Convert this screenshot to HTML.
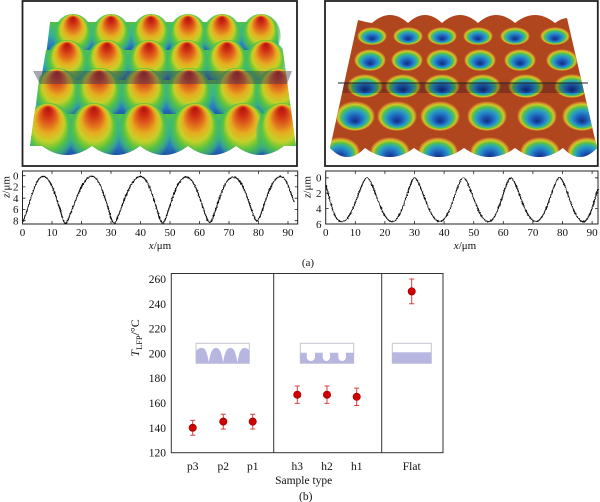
<!DOCTYPE html>
<html><head><meta charset="utf-8"><style>
html,body{margin:0;padding:0;background:#fff;}
svg{display:block;}
text{font-family:"Liberation Serif",serif;fill:#111;}
</style></head><body>
<svg width="600" height="502" viewBox="0 0 600 502" xmlns="http://www.w3.org/2000/svg">
<defs>
<linearGradient id="baseL" x1="0" y1="0" x2="0" y2="1">
<stop offset="0" stop-color="#52c243"/><stop offset="0.35" stop-color="#34b49a"/>
<stop offset="0.7" stop-color="#2a78c0"/><stop offset="1" stop-color="#163c96"/>
</linearGradient>
<radialGradient id="dome" cx="50%" cy="50%" r="52%" fx="50%" fy="8%">
<stop offset="0" stop-color="#b4120a"/><stop offset="0.14" stop-color="#cc2a14"/>
<stop offset="0.3" stop-color="#e0641c"/><stop offset="0.46" stop-color="#e6ae20"/>
<stop offset="0.6" stop-color="#c6d028"/><stop offset="0.74" stop-color="#5cc43c"/>
<stop offset="0.88" stop-color="#3fba6e" stop-opacity="0.7"/><stop offset="1" stop-color="#3ab37a" stop-opacity="0"/>
</radialGradient>
<radialGradient id="hole" cx="50%" cy="50%" r="50%" fx="50%" fy="68%">
<stop offset="0" stop-color="#102e80"/><stop offset="0.25" stop-color="#1c58b4"/>
<stop offset="0.45" stop-color="#2688c8"/><stop offset="0.6" stop-color="#30aea8"/>
<stop offset="0.72" stop-color="#5fc040"/>
<stop offset="0.83" stop-color="#c8cc28"/><stop offset="0.92" stop-color="#d6862a"/>
<stop offset="1" stop-color="#b0461e"/>
</radialGradient>
<filter id="jag" filterUnits="userSpaceOnUse" x="0" y="160" width="600" height="80">
<feTurbulence type="fractalNoise" baseFrequency="0.6" numOctaves="1" seed="3" result="n"/>
<feDisplacementMap in="SourceGraphic" in2="n" scale="2.2" xChannelSelector="R" yChannelSelector="G"/>
</filter>
<clipPath id="clipL"><path d="M50,0 L276,0 L296,146 L284,146 Q260,164 236,146 Q212,164 188,146 Q164,164 140,146 Q116,164 92,146 Q67,164 42,146 L30,146 Z"/></clipPath>
<clipPath id="clipR"><path id="surfR" d="M358,20 Q365,22 372,23 Q390,7 408,23 Q425,7 442,23 Q460,7 478,23 Q496,7 515,23 Q535,7 555,23 Q562,18 567,18 L597,148 Q580,166 563,148 Q539,166 515,148 Q490,166 464,148 Q439,166 414,148 Q390,166 365,148 Q347,166 330,148 Z"/></clipPath>
</defs>

<!-- Top left 3D panel -->
<rect x="22.5" y="1" width="274.5" height="165" fill="#fff" stroke="#222" stroke-width="1.8"/>
<g clip-path="url(#clipL)">
<polygon points="50,22 276,22 280,56 46,56" fill="url(#baseL)"/>
<g fill="url(#dome)">
<ellipse cx="73" cy="36" rx="20" ry="22"/><ellipse cx="111" cy="36" rx="20" ry="22"/>
<ellipse cx="151" cy="36" rx="20" ry="22"/><ellipse cx="188" cy="36" rx="20" ry="22"/>
<ellipse cx="222" cy="36" rx="20" ry="22"/><ellipse cx="261" cy="36" rx="20" ry="22"/>
</g>
<polygon points="46,50 280,50 284,86 40,86" fill="url(#baseL)"/>
<g fill="url(#dome)">
<ellipse cx="67" cy="64" rx="22" ry="24"/><ellipse cx="107" cy="64" rx="22" ry="24"/>
<ellipse cx="149" cy="64" rx="22" ry="24"/><ellipse cx="187" cy="64" rx="22" ry="24"/>
<ellipse cx="227" cy="64" rx="22" ry="24"/><ellipse cx="266" cy="64" rx="22" ry="24"/>
</g>
<polygon points="40,80 284,80 290,120 34,120" fill="url(#baseL)"/>
<g fill="url(#dome)">
<ellipse cx="57" cy="95" rx="24" ry="27"/><ellipse cx="99" cy="95" rx="24" ry="27"/>
<ellipse cx="144" cy="95" rx="24" ry="27"/><ellipse cx="189" cy="95" rx="24" ry="27"/>
<ellipse cx="237" cy="95" rx="24" ry="27"/><ellipse cx="278" cy="95" rx="24" ry="27"/>
</g>
<polygon points="34,114 290,114 298,160 28,160" fill="url(#baseL)"/>
<g fill="url(#dome)">
<ellipse cx="48" cy="133" rx="26" ry="30"/><ellipse cx="94" cy="133" rx="26" ry="30"/>
<ellipse cx="144" cy="133" rx="26" ry="30"/><ellipse cx="195" cy="133" rx="26" ry="30"/>
<ellipse cx="243" cy="133" rx="26" ry="30"/><ellipse cx="282" cy="133" rx="26" ry="30"/>
</g>
</g>
<polygon points="33,71 292,71 287,84 40,84" fill="rgba(60,60,85,0.45)"/>

<!-- Top right 3D panel -->
<rect x="325" y="1" width="272.8" height="165" fill="#fff" stroke="#222" stroke-width="1.8"/>
<use href="#surfR" fill="#b0461e"/>
<g clip-path="url(#clipR)" fill="url(#hole)">
<ellipse cx="372" cy="36" rx="15" ry="9"/><ellipse cx="408" cy="36" rx="15" ry="9"/>
<ellipse cx="442" cy="36" rx="15" ry="9"/><ellipse cx="478" cy="36" rx="15" ry="9"/>
<ellipse cx="515" cy="36" rx="15" ry="9"/><ellipse cx="555" cy="36" rx="15" ry="9"/>
<ellipse cx="370" cy="60" rx="16" ry="11"/><ellipse cx="407" cy="60" rx="16" ry="11"/>
<ellipse cx="442" cy="60" rx="16" ry="11"/><ellipse cx="480" cy="60" rx="16" ry="11"/>
<ellipse cx="520" cy="60" rx="16" ry="11"/><ellipse cx="562" cy="60" rx="16" ry="11"/>
<ellipse cx="365" cy="86" rx="18" ry="12"/><ellipse cx="403" cy="86" rx="18" ry="12"/>
<ellipse cx="442" cy="86" rx="18" ry="12"/><ellipse cx="483" cy="86" rx="18" ry="12"/>
<ellipse cx="526" cy="86" rx="18" ry="12"/><ellipse cx="572" cy="86" rx="18" ry="12"/>
<ellipse cx="355" cy="116" rx="20" ry="15"/><ellipse cx="397" cy="116" rx="20" ry="15"/>
<ellipse cx="440" cy="116" rx="20" ry="15"/><ellipse cx="487" cy="116" rx="20" ry="15"/>
<ellipse cx="537" cy="116" rx="20" ry="15"/><ellipse cx="582" cy="116" rx="20" ry="15"/>
<ellipse cx="340" cy="152" rx="20" ry="15"/><ellipse cx="390" cy="152" rx="20" ry="15"/>
<ellipse cx="438" cy="152" rx="20" ry="15"/><ellipse cx="490" cy="152" rx="20" ry="15"/>
<ellipse cx="540" cy="152" rx="20" ry="15"/><ellipse cx="587" cy="152" rx="20" ry="15"/>
<rect x="338" y="83" width="250" height="10" fill="rgba(0,0,30,0.25)"/>
</g>
<line x1="338" y1="83" x2="588" y2="83" stroke="#222" stroke-width="1"/>

<!-- Left profile -->
<rect x="22.5" y="171" width="275.2" height="53" fill="none" stroke="#222" stroke-width="1"/>
<g stroke="#222" stroke-width="0.8">
<path d="M52,224v-3M81.5,224v-3M111,224v-3M140.5,224v-3M170,224v-3M199.5,224v-3M229,224v-3M258.5,224v-3M288,224v-3
M52,171v3M81.5,171v3M111,171v3M140.5,171v3M170,171v3M199.5,171v3M229,171v3M258.5,171v3M288,171v3
M22.5,175.7h3M22.5,186.9h3M22.5,198.2h3M22.5,209.4h3M22.5,220.7h3
M297.7,175.7h-3M297.7,186.9h-3M297.7,198.2h-3M297.7,209.4h-3M297.7,220.7h-3"/>
</g>
<path fill="none" stroke="#111" stroke-width="1.2" filter="url(#jag)" d="M22.5,221.8 C28,214 34,176.3 43.2,176.3 C54,176.3 62,223.5 65.3,223.5 C69.5,223.5 80,176.3 91.8,176.3 C103,176.3 110,223.3 114,223.3 C118.5,223.3 128,176.5 140.5,176.5 C151.5,176.5 158.5,223.3 162.6,223.3 C167,223.3 174.5,177 186.2,177 C197.5,177 205,222.5 209.8,222.5 C214.5,222.5 221.5,177 233.4,177 C245,177 252.5,221 257,221 C261.5,221 269,176.5 280.6,176.5 C286,176.5 290,190 294,202"/>
<g font-size="11" text-anchor="end">
<text x="18.5" y="179.5">0</text><text x="18.5" y="190.7">2</text><text x="18.5" y="202">4</text><text x="18.5" y="213.2">6</text><text x="18.5" y="224.5">8</text>
</g>
<g font-size="11" text-anchor="middle">
<text x="22.5" y="236">0</text><text x="52" y="236">10</text><text x="81.5" y="236">20</text><text x="111" y="236">30</text><text x="140.5" y="236">40</text><text x="170" y="236">50</text><text x="199.5" y="236">60</text><text x="229" y="236">70</text><text x="258.5" y="236">80</text><text x="288" y="236">90</text>
<text x="160" y="249"><tspan font-style="italic">x</tspan>/μm</text>
</g>
<text font-size="11" text-anchor="middle" transform="translate(9.5,187) rotate(-90)"><tspan font-style="italic">z</tspan>/μm</text>

<!-- Right profile -->
<rect x="325.7" y="171" width="272.3" height="53" fill="none" stroke="#222" stroke-width="1"/>
<g stroke="#222" stroke-width="0.8">
<path d="M355.3,224v-3M384.9,224v-3M414.5,224v-3M444.1,224v-3M473.7,224v-3M503.3,224v-3M532.9,224v-3M562.5,224v-3M592.1,224v-3
M355.3,171v3M384.9,171v3M414.5,171v3M444.1,171v3M473.7,171v3M503.3,171v3M532.9,171v3M562.5,171v3M592.1,171v3
M325.7,177.8h3M325.7,193.2h3M325.7,208.6h3
M598,177.8h-3M598,193.2h-3M598,208.6h-3"/>
</g>
<path fill="none" stroke="#111" stroke-width="1.2" filter="url(#jag)" d="M325.7,185.5 C330,197 333,221.7 342,221.7 C353,221.7 361,177.8 367.1,177.8 C373,177.8 381,221.7 392.3,221.7 C402.5,221.7 409.5,177.8 414.5,177.8 C420.5,177.8 428.5,221.5 439.7,221.5 C450.5,221.5 457.5,177.8 463.3,177.8 C469.5,177.8 477.5,221.7 488.5,221.7 C498.5,221.7 505.5,177.8 510.7,177.8 C516.7,177.8 524.7,221.5 535.9,221.5 C546.5,221.5 553.5,177.8 559.5,177.8 C565.5,177.8 573,221.7 583.2,221.7 C590,221.7 594,200 598,189.3"/>
<g font-size="11" text-anchor="end">
<text x="321.5" y="181.6">0</text><text x="321.5" y="197">2</text><text x="321.5" y="212.4">4</text><text x="321.5" y="227.8">6</text>
</g>
<g font-size="11" text-anchor="middle">
<text x="325.7" y="236">0</text><text x="355.3" y="236">10</text><text x="384.9" y="236">20</text><text x="414.5" y="236">30</text><text x="444.1" y="236">40</text><text x="473.7" y="236">50</text><text x="503.3" y="236">60</text><text x="532.9" y="236">70</text><text x="562.5" y="236">80</text><text x="592.1" y="236">90</text>
<text x="465" y="249"><tspan font-style="italic">x</tspan>/μm</text>
</g>
<text font-size="11" text-anchor="middle" transform="translate(310.5,187) rotate(-90)"><tspan font-style="italic">z</tspan>/μm</text>

<text x="308" y="266" font-size="11" text-anchor="middle">(a)</text>

<!-- Chart (b) -->
<rect x="171.3" y="273.5" width="271.7" height="179.2" fill="none" stroke="#333" stroke-width="1"/>
<line x1="273.7" y1="273.5" x2="273.7" y2="452.7" stroke="#333" stroke-width="1"/>
<line x1="381.7" y1="273.5" x2="381.7" y2="452.7" stroke="#333" stroke-width="1"/>
<g font-size="11.5" text-anchor="end">
<text x="166" y="283">260</text><text x="166" y="307.8">240</text><text x="166" y="332.6">220</text><text x="166" y="357.4">200</text><text x="166" y="382.2">180</text><text x="166" y="407">160</text><text x="166" y="431.8">140</text><text x="166" y="456.6">120</text>
</g>
<text font-size="12" text-anchor="middle" transform="translate(139,338) rotate(-90)"><tspan font-style="italic">T</tspan><tspan font-size="8.5" dy="3">LFP</tspan><tspan dy="-3">/°C</tspan></text>
<g font-size="11.5" text-anchor="middle">
<text x="192.7" y="470">p3</text><text x="223.3" y="470">p2</text><text x="252.7" y="470">p1</text>
<text x="297.3" y="470">h3</text><text x="327" y="470">h2</text><text x="356.7" y="470">h1</text>
<text x="411.7" y="470">Flat</text>
<text x="303.7" y="484">Sample type</text>
<text x="305.7" y="500">(b)</text>
</g>

<!-- insets -->
<rect x="196" y="343.3" width="53.3" height="20" fill="#fff" stroke="#c4c4d0" stroke-width="1"/>
<path fill="#b6b6e0" d="M196,363.3 L196,352 C197,349 199,348 201.7,348 C204.7,348 206.85,350 208.85,362.5 C210.85,350 213,348 216,348 C219,348 221.15,350 223.15,362.5 C225.15,350 227.3,348 230.3,348 C233.3,348 235.45,350 237.45,362.5 C239.45,350 241.6,348 244.6,348 C247.6,348 249.3,350 249.3,352 L249.3,363.3 Z"/>
<rect x="300.3" y="343.3" width="53.4" height="20" fill="#fff" stroke="#c4c4d0" stroke-width="1"/>
<path fill="#b6b6e0" d="M300.3,352.7 L306.7,352.7 L306.7,357 A4.15,4 0 0 0 315,357 L315,352.7 L322.7,352.7 L322.7,357 A3.65,4 0 0 0 330,357 L330,352.7 L338.3,352.7 L338.3,357 A3.85,4 0 0 0 346,357 L346,352.7 L353.7,352.7 L353.7,363.3 L300.3,363.3 Z"/>
<rect x="392.3" y="343.3" width="39" height="20" fill="#fff" stroke="#c4c4d0" stroke-width="1"/>
<rect x="392.3" y="352.3" width="39" height="11" fill="#b6b6e0"/>

<!-- error bars -->
<g stroke="#d84040" stroke-width="1">
<path d="M192.7,420.4V435.2M190.2,420.4h5M190.2,435.2h5"/>
<path d="M223.3,414.2V429M220.8,414.2h5M220.8,429h5"/>
<path d="M252.7,414.2V429M250.2,414.2h5M250.2,429h5"/>
<path d="M297.3,386V403.4M294.8,386h5M294.8,403.4h5"/>
<path d="M327,386V403.4M324.5,386h5M324.5,403.4h5"/>
<path d="M356.7,388.1V405.5M354.2,388.1h5M354.2,405.5h5"/>
<path d="M411.7,279V303.8M409.2,279h5M409.2,303.8h5"/>
</g>
<g fill="#d00000" stroke="#8a0000" stroke-width="0.6">
<circle cx="192.7" cy="427.8" r="3.7"/><circle cx="223.3" cy="421.6" r="3.7"/><circle cx="252.7" cy="421.6" r="3.7"/>
<circle cx="297.3" cy="394.7" r="3.7"/><circle cx="327" cy="394.7" r="3.7"/><circle cx="356.7" cy="396.8" r="3.7"/>
<circle cx="411.7" cy="291.4" r="3.7"/>
</g>
</svg>
</body></html>
